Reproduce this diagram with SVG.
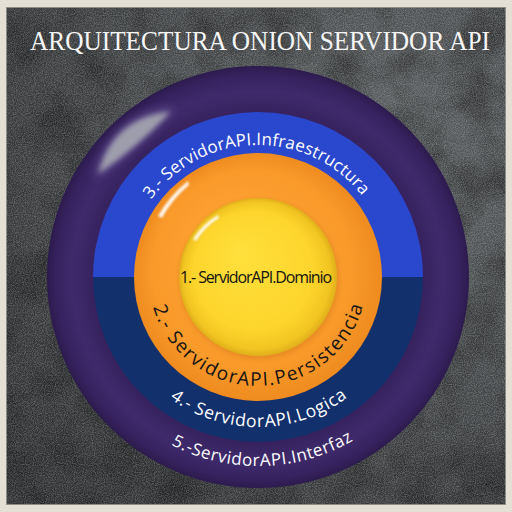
<svg xmlns="http://www.w3.org/2000/svg" width="512" height="512" viewBox="0 0 512 512">
  <defs>
    <style>
      .ring-label { font-family: "Open Sans", "DejaVu Sans", sans-serif; }
      .light { fill: #ffffff; }
      .dark { fill: #141414; }
      .title { font-family: "Liberation Serif", "DejaVu Serif", serif; fill: #f6f6f6; }
    </style>

    <!-- stone backdrop -->
    <radialGradient id="bgShade" cx="0.75" cy="0.3" r="0.9">
      <stop offset="0" stop-color="#5c6062"/>
      <stop offset="0.5" stop-color="#45484a"/>
      <stop offset="1" stop-color="#2e3032"/>
    </radialGradient>
    <filter id="mottle" x="0" y="0" width="1" height="1">
      <feTurbulence type="fractalNoise" baseFrequency="0.02" numOctaves="4" seed="7"/>
      <feColorMatrix type="matrix" values="0 0 0 0 0  0 0 0 0 0  0 0 0 0 0  -0.9 0 0 0 0.55"/>
    </filter>
    <filter id="grain" x="0" y="0" width="1" height="1">
      <feTurbulence type="fractalNoise" baseFrequency="0.9" numOctaves="2" seed="2"/>
      <feColorMatrix type="matrix" values="0 0 0 0 1  0 0 0 0 1  0 0 0 0 1  0.5 0 0 0 -0.17"/>
    </filter>

    <!-- ring fills -->
    <radialGradient id="purpleFill" gradientUnits="userSpaceOnUse" cx="258" cy="277" r="211">
      <stop offset="0.78" stop-color="#37225f"/>
      <stop offset="0.88" stop-color="#3f2a6c"/>
      <stop offset="0.96" stop-color="#36225e"/>
      <stop offset="1" stop-color="#2c1b4e"/>
    </radialGradient>
    <radialGradient id="orangeFill" gradientUnits="userSpaceOnUse" cx="258" cy="277" r="124" fx="228" fy="238">
      <stop offset="0" stop-color="#ffa636"/>
      <stop offset="0.8" stop-color="#f99a2b"/>
      <stop offset="1" stop-color="#ef8b1f"/>
    </radialGradient>
    <radialGradient id="yellowFill" gradientUnits="userSpaceOnUse" cx="258" cy="277" r="79" fx="238" fy="252">
      <stop offset="0" stop-color="#ffe03c"/>
      <stop offset="0.75" stop-color="#fdd52c"/>
      <stop offset="0.93" stop-color="#f2c522"/>
      <stop offset="1" stop-color="#e0af1a"/>
    </radialGradient>
    <filter id="soft" x="-50%" y="-50%" width="200%" height="200%">
      <feGaussianBlur stdDeviation="2.5"/>
    </filter>
    <filter id="haze" x="-50%" y="-50%" width="200%" height="200%">
      <feGaussianBlur stdDeviation="5"/>
    </filter>
    <filter id="softer" x="-50%" y="-50%" width="200%" height="200%">
      <feGaussianBlur stdDeviation="1.2"/>
    </filter>

    <!-- label baselines -->
    <path id="arcInfra" d="M151.2,199.4 A132,132 0 0 1 362.0,195.7"/>
    <path id="arcPers" d="M153.2,307.0 A109,109 0 0 0 363.0,306.1"/>
    <path id="arcLogica" d="M169.8,398.4 A150,150 0 0 0 347.9,397.1"/>
    <path id="arcInterfaz" d="M171.0,444.8 A189,189 0 0 0 353.1,440.4"/>
  </defs>

  <!-- frame and backdrop -->
  <g id="backdrop">
    <rect x="0" y="0" width="512" height="512" fill="#e3dfd5"/>
    <rect x="6" y="7" width="500" height="498" fill="url(#bgShade)"/>
    <rect x="6" y="7" width="500" height="498" filter="url(#mottle)"/>
    <rect x="6" y="7" width="500" height="498" filter="url(#grain)"/>
    <rect x="6.5" y="7.5" width="499" height="497" fill="none" stroke="#8e8b84" stroke-width="1"/>
  </g>

  <g id="title">
    <text class="title" x="30" y="50" font-size="26.5" textLength="460" lengthAdjust="spacingAndGlyphs">ARQUITECTURA ONION SERVIDOR API</text>
  </g>

  <!-- 5: outer layer -->
  <g id="layer-interfaz">
    <circle cx="258" cy="277" r="211" fill="url(#purpleFill)"/>
    <path d="M94,178 Q110,114 175,107 Q140,148 94,178 Z" fill="#6c5c98" opacity="0.8" filter="url(#haze)"/>
    <path d="M98.6,173.5 Q112.8,117.9 170.2,111.9 Q138.4,145.9 98.6,173.5 Z" fill="#a2a2ae" opacity="0.95" filter="url(#soft)"/>
    <text class="ring-label light" font-size="17"><textPath href="#arcInterfaz" textLength="190">5.-ServidorAPI.Interfaz</textPath></text>
  </g>

  <!-- 3 / 4: split middle layer -->
  <g id="layer-infraestructura">
    <path d="M93,277 A165,165 0 0 1 423,277 Z" fill="#2a48cd"/>
    <text class="ring-label light" font-size="17"><textPath href="#arcInfra" textLength="244">3.- ServidorAPI.Infraestructura</textPath></text>
  </g>
  <g id="layer-logica">
    <path d="M93,277 A165,165 0 0 0 423,277 Z" fill="#12306c"/>
    <text class="ring-label light" font-size="17.5"><textPath href="#arcLogica" textLength="190">4.- ServidorAPI.Logica</textPath></text>
  </g>

  <!-- 2: persistence layer -->
  <g id="layer-persistencia">
    <circle cx="258" cy="277" r="124" fill="url(#orangeFill)"/>
    <circle cx="259" cy="279" r="80" fill="#c96c12" opacity="0.35" filter="url(#soft)"/>
    <path d="M158.0,216.0 A118,118 0 0 1 188.0,181.0 L189.0,185.0 A113,113 0 0 0 162.0,218.0 Z" fill="#ffffff" opacity="0.9" filter="url(#softer)"/>
    <text class="ring-label dark" font-size="19"><textPath href="#arcPers" textLength="282">2.- ServidorAPI.Persistencia</textPath></text>
  </g>

  <!-- 1: domain core -->
  <g id="layer-dominio">
    <circle cx="258" cy="277" r="79" fill="url(#yellowFill)"/>
    <path d="M193.0,239.0 A74,74 0 0 1 218.0,215.0 L219.0,218.0 A70,70 0 0 0 196.0,241.0 Z" fill="#ffffff" opacity="0.9" filter="url(#softer)"/>
    <text class="ring-label dark" x="256" y="283" font-size="16" text-anchor="middle" textLength="152">1.- ServidorAPI.Dominio</text>
  </g>
</svg>
